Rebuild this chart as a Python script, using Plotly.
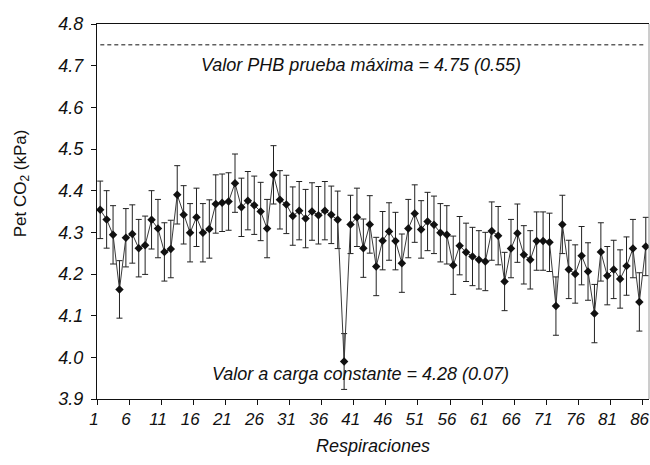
import plotly.graph_objects as go

respiraciones = list(range(1, 87))
pet_co2 = [4.354, 4.331, 4.294, 4.163, 4.287, 4.296, 4.262, 4.269, 4.330, 4.309,
           4.253, 4.260, 4.390, 4.342, 4.299, 4.336, 4.299, 4.308, 4.368, 4.371,
           4.374, 4.418, 4.360, 4.376, 4.365, 4.350, 4.309, 4.438, 4.378, 4.367,
           4.339, 4.352, 4.333, 4.350, 4.341, 4.352, 4.342, 4.330, 3.990, 4.319,
           4.336, 4.262, 4.319, 4.218, 4.280, 4.302, 4.279, 4.226, 4.309, 4.345,
           4.307, 4.326, 4.318, 4.299, 4.294, 4.221, 4.268, 4.252, 4.242, 4.234,
           4.230, 4.303, 4.292, 4.182, 4.261, 4.298, 4.246, 4.234, 4.279, 4.279,
           4.276, 4.123, 4.319, 4.211, 4.200, 4.244, 4.206, 4.105, 4.253, 4.196,
           4.211, 4.188, 4.219, 4.261, 4.133, 4.266]
error_sd = [0.069, 0.069, 0.070, 0.069, 0.070, 0.070, 0.069, 0.070, 0.070, 0.070,
            0.070, 0.069, 0.070, 0.070, 0.070, 0.070, 0.070, 0.070, 0.070, 0.069,
            0.069, 0.070, 0.070, 0.070, 0.070, 0.070, 0.070, 0.070, 0.070, 0.070,
            0.070, 0.070, 0.070, 0.069, 0.069, 0.070, 0.069, 0.069, 0.067, 0.070,
            0.070, 0.070, 0.069, 0.070, 0.070, 0.069, 0.069, 0.070, 0.070, 0.069,
            0.069, 0.070, 0.069, 0.070, 0.070, 0.070, 0.070, 0.070, 0.070, 0.070,
            0.070, 0.070, 0.070, 0.070, 0.070, 0.070, 0.070, 0.070, 0.070, 0.070,
            0.070, 0.070, 0.070, 0.070, 0.070, 0.070, 0.069, 0.070, 0.070, 0.070,
            0.070, 0.070, 0.070, 0.070, 0.070, 0.070]
x_tick_labels = ["1", "6", "11", "16", "21", "26", "31", "36", "41", "46", "51",
                 "56", "61", "66", "71", "76", "81", "86"]
y_tick_values = [3.9, 4.0, 4.1, 4.2, 4.3, 4.4, 4.5, 4.6, 4.7, 4.8]
phb_value = 4.75
text_top = "Valor PHB prueba máxima = 4.75 (0.55)"
text_bottom = "Valor a carga constante = 4.28 (0.07)"

FONT = "Liberation Sans, Arial, sans-serif"

# tick marks (and labels) sit on the category boundaries, as in the original
x_tick_positions = [int(t) - 0.5 for t in x_tick_labels]

fig = go.Figure()
fig.add_trace(go.Scatter(
    x=respiraciones, y=pet_co2, mode="lines+markers",
    line=dict(color="#3a3a3a", width=1),
    marker=dict(symbol="diamond", size=6.5, color="#111111"),
    error_y=dict(type="data", array=error_sd, visible=True,
                 color="#222222", thickness=1, width=3),
    showlegend=False, hoverinfo="skip"))

fig.add_shape(type="line", xref="paper", yref="y", x0=0.006, x1=0.994,
              y0=phb_value, y1=phb_value,
              line=dict(color="#111111", width=1, dash="4px,3px"))
fig.add_shape(type="line", xref="paper", yref="paper", x0=1, x1=1, y0=0, y1=1,
              line=dict(color="#9a9a9a", width=1))

fig.add_annotation(text=text_top, xref="paper", yref="y", x=0.478, y=4.702,
                   showarrow=False, xanchor="center", yanchor="middle",
                   font=dict(family=FONT, size=18, color="#111111", style="italic"))
fig.add_annotation(text=text_bottom, xref="paper", yref="y", x=0.478, y=3.96,
                   showarrow=False, xanchor="center", yanchor="middle",
                   font=dict(family=FONT, size=18, color="#111111", style="italic"))
fig.add_annotation(text="Pet CO<sub>2</sub> (kPa)", xref="paper", yref="paper",
                   x=-0.136, y=0.575, textangle=-90, showarrow=False,
                   xanchor="center", yanchor="middle",
                   font=dict(family=FONT, size=17, color="#111111"))
fig.add_annotation(text="Respiraciones", xref="paper", yref="paper",
                   x=0.5, y=-0.125, showarrow=False,
                   xanchor="center", yanchor="middle",
                   font=dict(family=FONT, size=18, color="#111111", style="italic"))

fig.update_layout(
    width=650, height=465,
    margin=dict(l=97, r=1, t=24, b=66),
    paper_bgcolor="white", plot_bgcolor="white",
    xaxis=dict(range=[0.5, 86.5],
               tickmode="array", tickvals=x_tick_positions, ticktext=x_tick_labels,
               tickangle=0, ticklabelshift=-3,
               ticks="outside", ticklen=5, tickcolor="#111111",
               showline=True, linecolor="#111111", linewidth=1, mirror=True,
               showgrid=False, zeroline=False,
               tickfont=dict(family=FONT, size=17, color="#111111", style="italic")),
    yaxis=dict(range=[3.9, 4.8], tickmode="array", tickvals=y_tick_values,
               tickformat=".1f", ticks="outside", ticklen=5, tickcolor="#111111",
               ticklabelstandoff=4,
               showline=True, linecolor="#111111", linewidth=1,
               showgrid=False, zeroline=False,
               tickfont=dict(family=FONT, size=18, color="#111111", style="italic")),
)

fig.write_html("out.html", config={"displayModeBar": False},
               post_script="document.body.style.margin='0';document.body.style.overflow='hidden';")
